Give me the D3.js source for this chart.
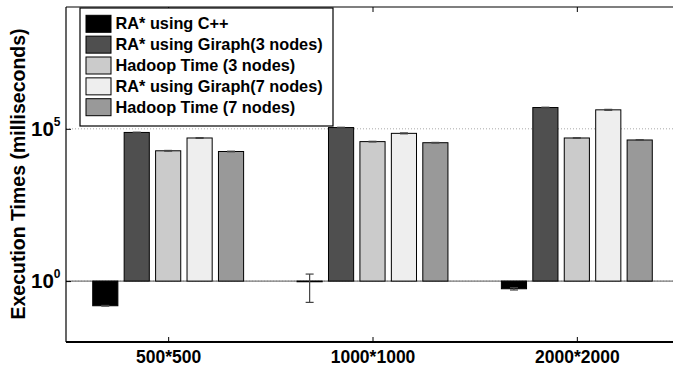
<!DOCTYPE html>
<html>
<head>
<meta charset="utf-8">
<script src="https://cdn.jsdelivr.net/npm/d3@7"></script>
<style>
  body { margin: 0; background: #fff; }
  text { font-family: Arial, "Liberation Sans", sans-serif; font-weight: bold; fill: #000; }
</style>
</head>
<body>
<svg id="chart" width="673" height="366"></svg>
<script>
// Data (milliseconds, log axis)
var categories = ['500*500', '1000*1000', '2000*2000'];
var seriesNames = ['RA* using C++', 'RA* using Giraph(3 nodes)', 'Hadoop Time (3 nodes)',
                   'RA* using Giraph(7 nodes)', 'Hadoop Time (7 nodes)'];
var seriesColors = ['#000000', '#4f4f4f', '#cbcbcb', '#eeeeee', '#999999'];

var raCpp      = [0.155, 0.95, 0.56];
var giraph3    = [7.6e4, 1.1e5, 5.0e5];
var hadoop3    = [1.9e4, 3.8e4, 5.0e4];
var giraph7    = [5.0e4, 7.1e4, 4.2e5];
var hadoop7    = [1.8e4, 3.5e4, 4.3e4];

var raCppErr   = [0.004, 0.75, 0.05];
var giraph3Err = [1.5e3, 2.5e3, 1.2e4];
var hadoop3Err = [5e2, 9e2, 1.2e3];
var giraph7Err = [1.5e3, 2.5e3, 1.5e4];
var hadoop7Err = [4e2, 8e2, 1e3];

var yTicks = [0, 5];   // exponents shown on the axis

var values = [raCpp, giraph3, hadoop3, giraph7, hadoop7];
var errors = [raCppErr, giraph3Err, hadoop3Err, giraph7Err, hadoop7Err];

// Layout (note: 'top' is taken by window.top, so plotTop etc.)
var plotLeft = 66, plotRight = 679, plotTop = 7, plotBottom = 342;
var svg = d3.select('#chart');

var x = d3.scaleLinear().domain([0.5, 3.5]).range([plotLeft, plotRight]);
var y = d3.scaleLog().domain([1e-2, 1e9]).range([plotBottom, plotTop]);

// matlab style grouped bars
var nSeries = seriesNames.length;
var groupWidth = Math.min(0.8, nSeries / (nSeries + 1.5));
var step = groupWidth / nSeries;
var barW = step * 0.8;

// grid at major ticks
svg.selectAll('line.grid').data(yTicks)
  .enter().append('line')
  .attr('class', 'grid')
  .attr('x1', plotLeft).attr('x2', plotRight)
  .attr('y1', function(d) { return y(Math.pow(10, d)); })
  .attr('y2', function(d) { return y(Math.pow(10, d)); })
  .attr('stroke', '#aaa')
  .attr('stroke-dasharray', '1,2');

// baseline at 10^0
svg.append('line')
  .attr('x1', plotLeft).attr('x2', plotRight)
  .attr('y1', y(1)).attr('y2', y(1))
  .attr('stroke', '#777').attr('stroke-width', 1.2);

// bars
var bars = [];
values.forEach(function(vals, s) {
  vals.forEach(function(v, c) {
    bars.push({s: s, c: c, v: v, e: errors[s][c]});
  });
});
var cx = function(d) { return x(d.c + 1 + (d.s - (nSeries - 1) / 2) * step); };
var bw = x(barW) - x(0);

svg.selectAll('rect.bar').data(bars)
  .enter().append('rect')
  .attr('class', 'bar')
  .attr('x', function(d) { return cx(d) - bw / 2; })
  .attr('y', function(d) { return Math.min(y(d.v), y(1)); })
  .attr('width', bw)
  .attr('height', function(d) { return Math.max(Math.abs(y(d.v) - y(1)), 0.5); })
  .attr('fill', function(d) { return seriesColors[d.s]; })
  .attr('stroke', '#000')
  .attr('stroke-width', 1);

// error bars
var capW = 4;
var errG = svg.selectAll('g.err').data(bars).enter().append('g').attr('class', 'err')
  .attr('stroke', '#444').attr('stroke-width', 1.2);
errG.append('line')
  .attr('x1', cx).attr('x2', cx)
  .attr('y1', function(d) { return y(d.v + d.e); })
  .attr('y2', function(d) { return y(Math.max(d.v - d.e, 1e-2)); });
errG.append('line')
  .attr('x1', function(d) { return cx(d) - capW; }).attr('x2', function(d) { return cx(d) + capW; })
  .attr('y1', function(d) { return y(d.v + d.e); })
  .attr('y2', function(d) { return y(d.v + d.e); });
errG.append('line')
  .attr('x1', function(d) { return cx(d) - capW; }).attr('x2', function(d) { return cx(d) + capW; })
  .attr('y1', function(d) { return y(Math.max(d.v - d.e, 1e-2)); })
  .attr('y2', function(d) { return y(Math.max(d.v - d.e, 1e-2)); });

// axes frame
svg.append('line').attr('x1', plotLeft).attr('x2', plotRight).attr('y1', plotBottom).attr('y2', plotBottom)
  .attr('stroke', '#000').attr('stroke-width', 2);
svg.append('line').attr('x1', plotLeft).attr('x2', plotRight).attr('y1', plotTop).attr('y2', plotTop)
  .attr('stroke', '#000').attr('stroke-width', 1.2);
svg.append('line').attr('x1', plotLeft).attr('x2', plotLeft).attr('y1', plotTop).attr('y2', plotBottom)
  .attr('stroke', '#000').attr('stroke-width', 1.2);

// x ticks (inward, top and bottom)
var xAxis = d3.axisBottom(x).tickValues([1, 2, 3])
  .tickFormat(function(d) { return categories[d - 1]; })
  .tickSizeInner(-5).tickSizeOuter(0).tickPadding(10);
var gx = svg.append('g').attr('transform', 'translate(0,' + plotBottom + ')').call(xAxis);
gx.select('.domain').remove();
gx.selectAll('text').attr('font-size', 17.5).attr('font-family', 'Arial, "Liberation Sans", sans-serif')
  .attr('font-weight', 'bold').attr('fill', '#000')
  .attr('dy', '0.65em');
gx.selectAll('line').attr('stroke', '#000');

var xTop = d3.axisTop(x).tickValues([1, 2, 3]).tickFormat('').tickSizeInner(-5).tickSizeOuter(0);
var gxt = svg.append('g').attr('transform', 'translate(0,' + plotTop + ')').call(xTop);
gxt.select('.domain').remove();
gxt.selectAll('line').attr('stroke', '#000');

// y ticks with superscript labels
var yAxis = d3.axisLeft(y).tickValues(yTicks.map(function(d) { return Math.pow(10, d); }))
  .tickFormat('').tickSizeInner(-5).tickSizeOuter(0);
var gy = svg.append('g').attr('transform', 'translate(' + plotLeft + ',0)').call(yAxis);
gy.select('.domain').remove();
gy.selectAll('line').attr('stroke', '#000');

var ylab = svg.selectAll('text.ylab').data(yTicks).enter().append('text')
  .attr('class', 'ylab')
  .attr('x', 31)
  .attr('y', function(d) { return y(Math.pow(10, d)) + 7; })
  .attr('font-size', 20.5);
ylab.append('tspan').text('10');
ylab.append('tspan').attr('dy', -10).attr('font-size', 12).text(function(d) { return d; });

// y label
svg.append('text')
  .attr('transform', 'translate(25,174) rotate(-90)')
  .attr('text-anchor', 'middle')
  .attr('font-size', 19.5)
  .text('Execution Times (milliseconds)');

// legend
var legend = svg.append('g');
legend.append('rect')
  .attr('x', 80).attr('y', 8).attr('width', 253).attr('height', 118)
  .attr('fill', '#fff').attr('stroke', '#000').attr('stroke-width', 1.2);
var item = legend.selectAll('g.item').data(seriesNames).enter().append('g')
  .attr('transform', function(d, i) { return 'translate(86,' + (29.3 + i * 20.85) + ')'; });
item.append('rect')
  .attr('x', 0).attr('y', -14).attr('width', 25).attr('height', 17)
  .attr('fill', function(d, i) { return seriesColors[i]; })
  .attr('stroke', '#000');
item.append('text')
  .attr('x', 29.5).attr('y', 0)
  .attr('font-size', 16.3)
  .text(function(d) { return d; });
</script>
</body>
</html>
